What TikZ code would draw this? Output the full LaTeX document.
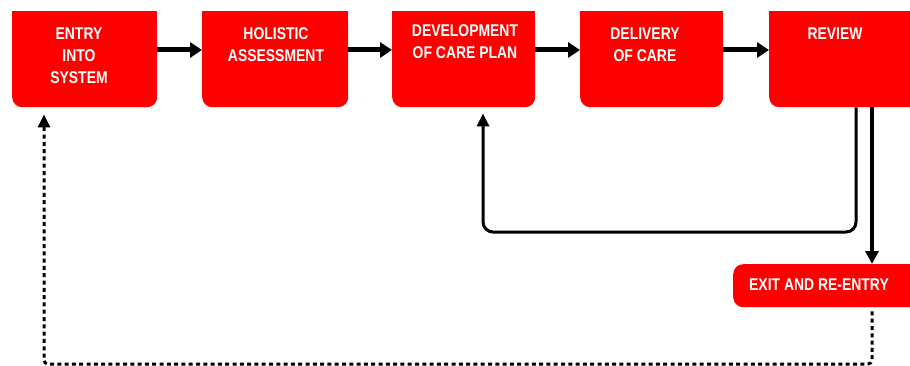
\documentclass[tikz,border=0pt]{standalone}
\usepackage{fontspec}
\newfontfamily\boxfont{Liberation Sans}[FakeStretch=0.82]
\usetikzlibrary{arrows.meta,calc}
\definecolor{boxred}{RGB}{255,0,0}
\begin{document}
\begin{tikzpicture}[x=1pt,y=-1pt,
  box/.style={fill=boxred,draw=none,rounded corners=10pt,anchor=north west,inner sep=0pt},
  lbl/.style={text=white,font=\boxfont\bfseries\fontsize{17}{22}\selectfont,align=center,anchor=north,inner sep=0pt},
  flow/.style={line width=5pt,-{Triangle[length=12pt,width=15pt]}},
  thin/.style={line width=3pt},
  dotline/.style={line width=3pt,dash pattern=on 4pt off 3.3pt}]
\useasboundingbox (0,0) rectangle (910,366);
\clip (0,0) rectangle (910,366);
% boxes
\node[box,minimum width=145pt,minimum height=96pt] (b1) at (12,11) {};
\node[box,minimum width=146pt,minimum height=96pt] (b2) at (202,11) {};
\node[box,minimum width=143pt,minimum height=96pt] (b3) at (392,11) {};
\node[box,minimum width=143pt,minimum height=96pt] (b4) at (580,11) {};
\node[box,minimum width=160pt,minimum height=96pt] (b5) at (769,11) {};
\node[box,minimum width=190pt,minimum height=43pt] (ex) at (733,264) {};
% square top corners
\foreach \b in {b1,b2,b3,b4,b5}{\fill[boxred] (\b.north west) rectangle ($(\b.north east)+(0,20)$);}
% labels
\node[lbl] (t1) at (79,27.5) {ENTRY\\INTO\\SYSTEM};
\node[lbl] (t2) at (276,27.5) {HOLISTIC\\ASSESSMENT};
\node[lbl] (t3) at (465,24) {DEVELOPMENT\\OF CARE PLAN};
\node[lbl] (t4) at (645,27.5) {DELIVERY\\OF CARE};
\node[lbl] (t5) at (835,27.5) {REVIEW};
\node[lbl] (t6) at (819,279) {EXIT AND RE-ENTRY};
% helper coordinates
\coordinate (ay) at (0,50);
\coordinate (r1) at (856,0);
\coordinate (r2) at (872,0);
\coordinate (l1) at (483,0);
\coordinate (l0) at (44,0);
\coordinate (lowy) at (0,232);
\coordinate (boty) at (0,364);
% main flow
\draw[flow] (b1.east |- ay) -- (b2.west |- ay);
\draw[flow] (b2.east |- ay) -- (b3.west |- ay);
\draw[flow] (b3.east |- ay) -- (b4.west |- ay);
\draw[flow] (b4.east |- ay) -- (b5.west |- ay);
% feedback to care plan
\draw[thin,rounded corners=10pt,-{Triangle[length=13pt,width=12pt]},shorten >=6pt]
  (b5.south -| r1) -- (r1 |- lowy) -- (l1 |- lowy) -- (b3.south -| l1);
% review to exit
\draw[line width=3.5pt,-{Triangle[length=13pt,width=13pt]}] (b5.south -| r2) -- (ex.north -| r2);
% exit back to entry
\draw[dotline,rounded corners=4pt,-{Triangle[length=13pt,width=12pt]},shorten >=7pt]
  ($(ex.south -| r2)+(0,4)$) -- (r2 |- boty) -- (l0 |- boty) -- (b1.south -| l0);
\end{tikzpicture}
\end{document}
